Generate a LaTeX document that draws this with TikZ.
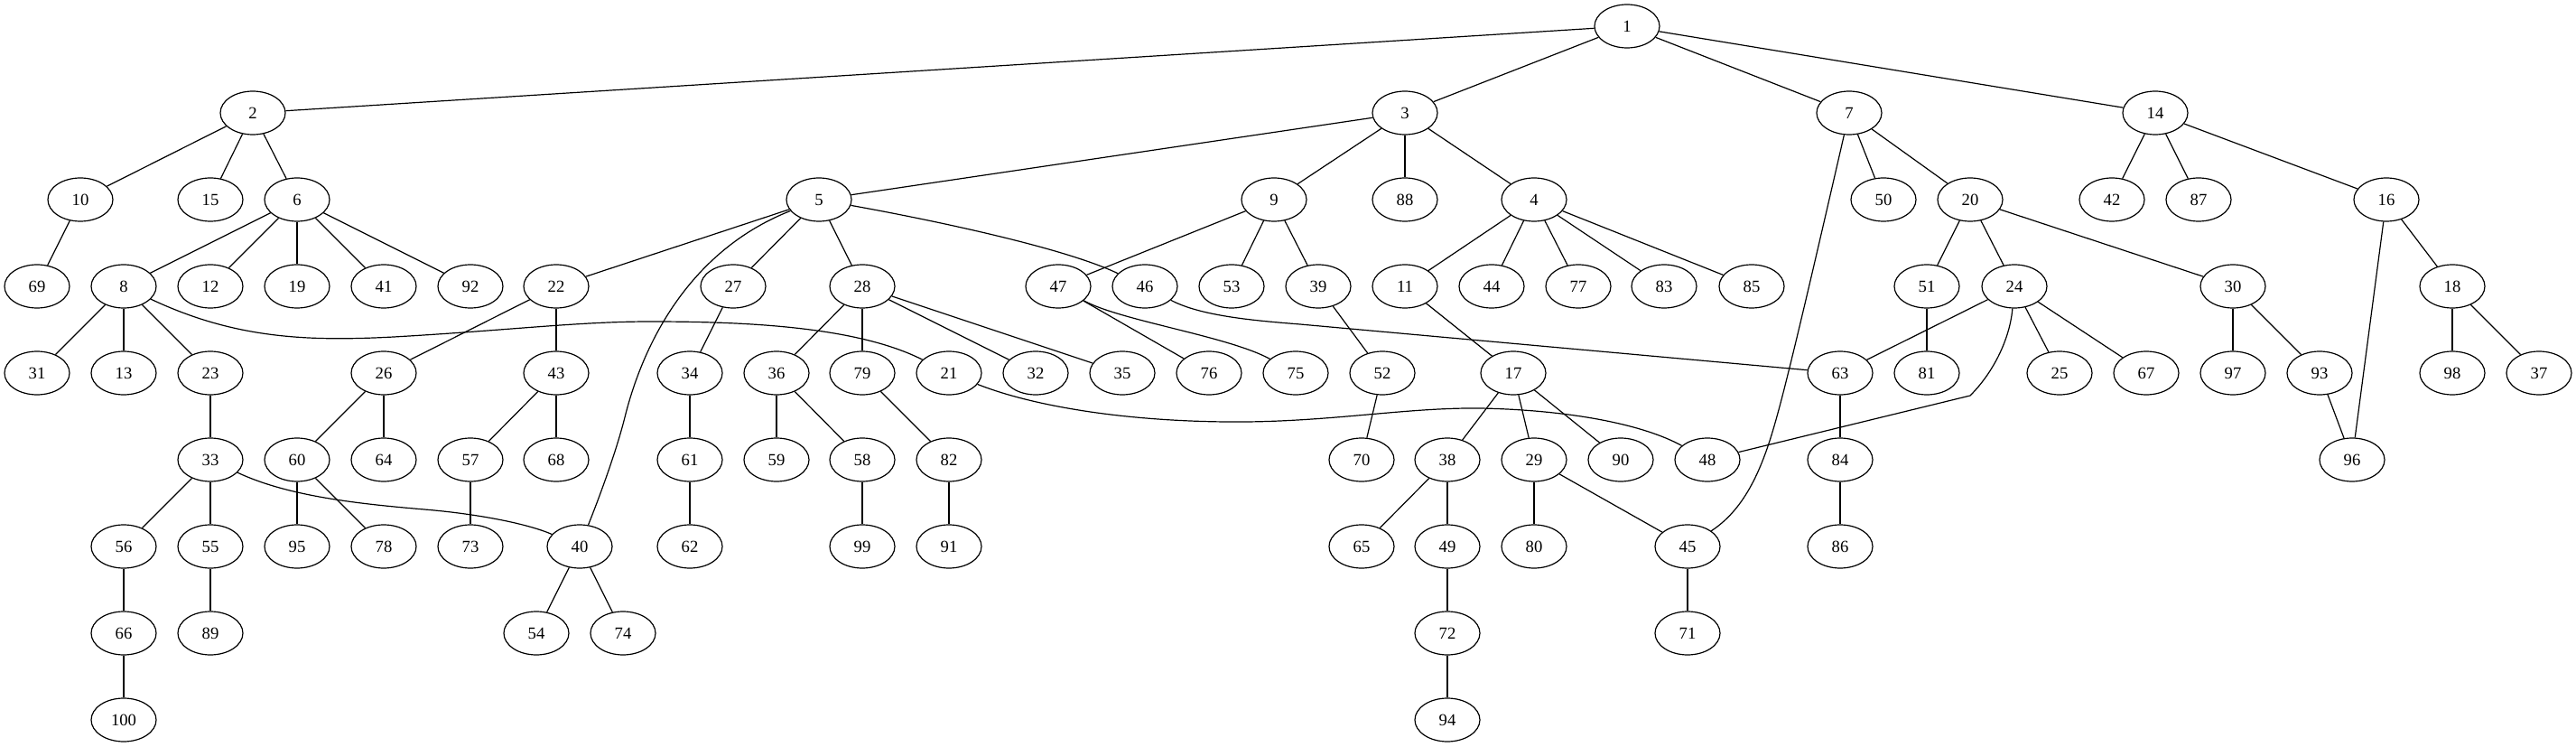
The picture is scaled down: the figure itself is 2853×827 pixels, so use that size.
\documentclass[tikz,border=0pt]{standalone}
\usepackage{fontspec}
\setmainfont{Liberation Serif}
\usetikzlibrary{shapes.geometric}
\begin{document}
\begin{tikzpicture}[x=0.75pt,y=-0.75pt,
  nd/.style={draw, ellipse, minimum width=54pt, minimum height=36pt, inner sep=0pt, line width=0.9pt, font=\fontsize{14}{16}\selectfont},
  ed/.style={line width=0.9pt}]
\useasboundingbox (0,0) rectangle (2853,827);
% rank 0
\node[nd] (n1) at (1802,29) {1};
% rank 1
\node[nd] (n2) at (280,125) {2};
\node[nd] (n3) at (1556,125) {3};
\node[nd] (n7) at (2048,125) {7};
\node[nd] (n14) at (2387,125) {14};
% rank 2
\node[nd] (n10) at (89,221) {10};
\node[nd] (n15) at (233,221) {15};
\node[nd] (n6) at (329,221) {6};
\node[nd] (n5) at (907,221) {5};
\node[nd] (n9) at (1411,221) {9};
\node[nd] (n88) at (1556,221) {88};
\node[nd] (n4) at (1699,221) {4};
\node[nd] (n50) at (2086,221) {50};
\node[nd] (n20) at (2182,221) {20};
\node[nd] (n42) at (2339,221) {42};
\node[nd] (n87) at (2435,221) {87};
\node[nd] (n16) at (2643,221) {16};
% rank 3
\node[nd] (n69) at (41,317) {69};
\node[nd] (n8) at (137,317) {8};
\node[nd] (n12) at (233,317) {12};
\node[nd] (n19) at (329,317) {19};
\node[nd] (n41) at (425,317) {41};
\node[nd] (n92) at (521,317) {92};
\node[nd] (n22) at (616,317) {22};
\node[nd] (n27) at (812,317) {27};
\node[nd] (n28) at (955,317) {28};
\node[nd] (n47) at (1172,317) {47};
\node[nd] (n46) at (1268,317) {46};
\node[nd] (n53) at (1364,317) {53};
\node[nd] (n39) at (1460,317) {39};
\node[nd] (n11) at (1556,317) {11};
\node[nd] (n44) at (1652,317) {44};
\node[nd] (n77) at (1748,317) {77};
\node[nd] (n83) at (1843,317) {83};
\node[nd] (n85) at (1940,317) {85};
\node[nd] (n51) at (2134,317) {51};
\node[nd] (n24) at (2231,317) {24};
\node[nd] (n30) at (2473,317) {30};
\node[nd] (n18) at (2716,317) {18};
% rank 4
\node[nd] (n31) at (41,413) {31};
\node[nd] (n13) at (137,413) {13};
\node[nd] (n23) at (233,413) {23};
\node[nd] (n26) at (425,413) {26};
\node[nd] (n43) at (616,413) {43};
\node[nd] (n34) at (764,413) {34};
\node[nd] (n36) at (860,413) {36};
\node[nd] (n79) at (955,413) {79};
\node[nd] (n21) at (1051,413) {21};
\node[nd] (n32) at (1147,413) {32};
\node[nd] (n35) at (1243,413) {35};
\node[nd] (n76) at (1339,413) {76};
\node[nd] (n75) at (1435,413) {75};
\node[nd] (n52) at (1531,413) {52};
\node[nd] (n17) at (1676,413) {17};
\node[nd] (n63) at (2038,413) {63};
\node[nd] (n81) at (2134,413) {81};
\node[nd] (n25) at (2281,413) {25};
\node[nd] (n67) at (2377,413) {67};
\node[nd] (n97) at (2473,413) {97};
\node[nd] (n93) at (2569,413) {93};
\node[nd] (n98) at (2716,413) {98};
\node[nd] (n37) at (2812,413) {37};
% rank 5
\node[nd] (n33) at (233,509) {33};
\node[nd] (n60) at (329,509) {60};
\node[nd] (n64) at (425,509) {64};
\node[nd] (n57) at (521,509) {57};
\node[nd] (n68) at (616,509) {68};
\node[nd] (n61) at (764,509) {61};
\node[nd] (n59) at (860,509) {59};
\node[nd] (n58) at (955,509) {58};
\node[nd] (n82) at (1051,509) {82};
\node[nd] (n70) at (1508,509) {70};
\node[nd] (n38) at (1603,509) {38};
\node[nd] (n29) at (1699,509) {29};
\node[nd] (n90) at (1795,509) {90};
\node[nd] (n48) at (1891,509) {48};
\node[nd] (n84) at (2038,509) {84};
\node[nd] (n96) at (2605,509) {96};
% rank 6
\node[nd] (n56) at (137,605) {56};
\node[nd] (n55) at (233,605) {55};
\node[nd] (n95) at (329,605) {95};
\node[nd] (n78) at (425,605) {78};
\node[nd] (n73) at (521,605) {73};
\node[nd] (n40) at (642,605) {40};
\node[nd] (n62) at (764,605) {62};
\node[nd] (n99) at (955,605) {99};
\node[nd] (n91) at (1051,605) {91};
\node[nd] (n65) at (1508,605) {65};
\node[nd] (n49) at (1603,605) {49};
\node[nd] (n80) at (1699,605) {80};
\node[nd] (n45) at (1869,605) {45};
\node[nd] (n86) at (2038,605) {86};
% rank 7
\node[nd] (n66) at (137,701) {66};
\node[nd] (n89) at (233,701) {89};
\node[nd] (n54) at (594,701) {54};
\node[nd] (n74) at (690,701) {74};
\node[nd] (n72) at (1603,701) {72};
\node[nd] (n71) at (1869,701) {71};
% rank 8
\node[nd] (n100) at (137,797) {100};
\node[nd] (n94) at (1603,797) {94};

% straight edges
\foreach \a/\b in {1/2,1/3,1/7,1/14,
  2/10,2/15,2/6,10/69,6/8,6/12,6/19,6/41,6/92,
  8/31,8/13,8/23,23/33,33/56,33/55,56/66,66/100,55/89,
  3/5,3/9,3/88,3/4,5/22,5/27,5/28,22/26,22/43,26/60,26/64,60/95,60/78,
  43/57,43/68,57/73,40/54,40/74,27/34,34/61,61/62,
  28/36,28/79,28/32,28/35,36/59,36/58,58/99,79/82,82/91,
  9/47,9/53,9/39,47/76,39/52,52/70,
  4/11,4/44,4/77,4/83,4/85,11/17,17/38,17/29,17/90,
  38/65,38/49,49/72,72/94,29/80,29/45,45/71,
  7/50,7/20,20/51,20/24,20/30,51/81,24/63,24/25,24/67,63/84,84/86,
  30/97,30/93,93/96,14/42,14/87,14/16,16/18,16/96,18/98,18/37}
  \draw[ed] (n\a) -- (n\b);

% curved edges
\draw[ed] (n8) .. controls (260,375) and (340,378) .. (436,373)
  .. controls (560,366) and (640,356) .. (720,356)
  .. controls (830,356) and (950,362) .. (n21);
\draw[ed] (n5) .. controls (770,275) and (715,370) .. (692,462)
  .. controls (682,502) and (662,555) .. (n40);
\draw[ed] (n5) .. controls (1040,245) and (1180,275) .. (n46);
\draw[ed] (n33) .. controls (320,550) and (400,558) .. (470,564)
  .. controls (530,569) and (585,580) .. (n40);
\draw[ed] (n47) .. controls (1240,355) and (1360,372) .. (n75);
\draw[ed] (n46) .. controls (1330,350) and (1390,355) .. (1440,359) -- (n63);
\draw[ed] (n21) .. controls (1150,452) and (1260,468) .. (1380,467)
  .. controls (1480,466) and (1560,451) .. (1640,452)
  .. controls (1740,454) and (1820,470) .. (n48);
\draw[ed] (n24) .. controls (2226,375) and (2208,412) .. (2182,438) -- (n48);
\draw[ed] (n7) .. controls (2010,290) and (1980,420) .. (1966,468)
  .. controls (1950,525) and (1930,565) .. (n45);
\end{tikzpicture}
\end{document}
